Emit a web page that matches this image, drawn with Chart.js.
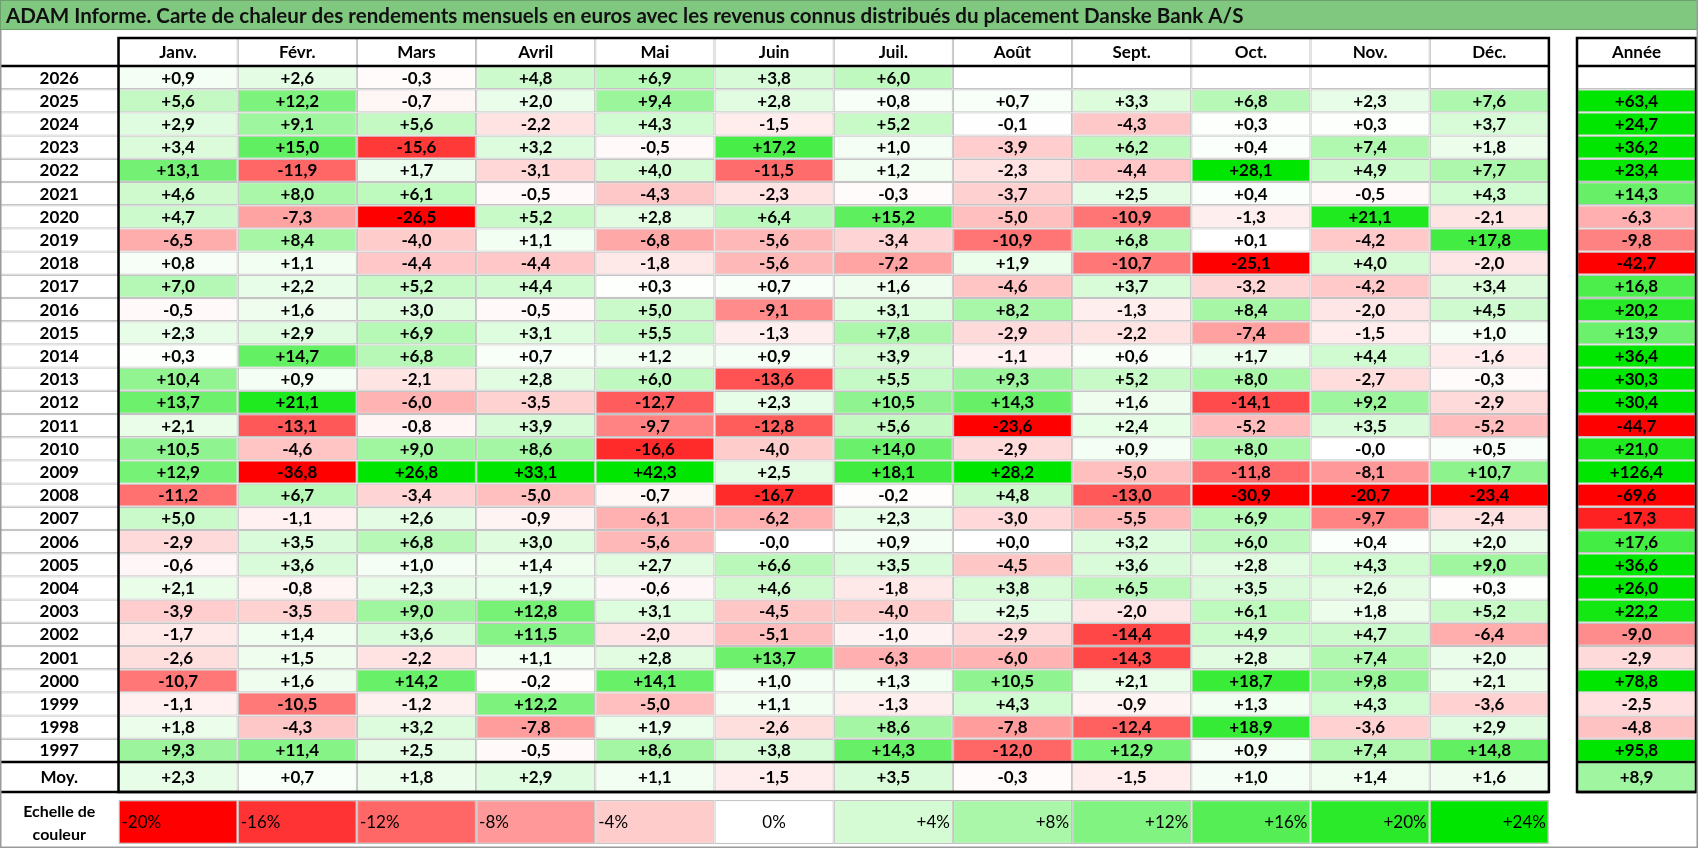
<!DOCTYPE html>
<html><head><meta charset="utf-8">
<script src="https://cdn.jsdelivr.net/npm/chart.js@4.4.1/dist/chart.umd.min.js"></script>
<style>html,body{margin:0;padding:0;background:#fff;overflow:hidden}canvas{display:block}</style>
</head><body>
<canvas id="c" width="1698" height="848"></canvas>
<script>
// ---------- DATA ----------
const TITLE = 'ADAM Informe. Carte de chaleur des rendements mensuels en euros avec les revenus connus distribués du placement Danske Bank A/S';
const months = ['Janv.','Févr.','Mars','Avril','Mai','Juin','Juil.','Août','Sept.','Oct.','Nov.','Déc.'];
const annualLabel = 'Année';
const avgLabel = 'Moy.';
const scaleTitle = ['Echelle de','couleur'];
const years = [2026,2025,2024,2023,2022,2021,2020,2019,2018,2017,2016,2015,2014,2013,2012,2011,2010,2009,2008,2007,2006,2005,2004,2003,2002,2001,2000,1999,1998,1997];
const v2026 = [0.9, 2.6, -0.3, 4.8, 6.9, 3.8, 6.0, null, null, null, null, null];
const v2025 = [5.6, 12.2, -0.7, 2.0, 9.4, 2.8, 0.8, 0.7, 3.3, 6.8, 2.3, 7.6];
const v2024 = [2.9, 9.1, 5.6, -2.2, 4.3, -1.5, 5.2, -0.1, -4.3, 0.3, 0.3, 3.7];
const v2023 = [3.4, 15.0, -15.6, 3.2, -0.5, 17.2, 1.0, -3.9, 6.2, 0.4, 7.4, 1.8];
const v2022 = [13.1, -11.9, 1.7, -3.1, 4.0, -11.5, 1.2, -2.3, -4.4, 28.1, 4.9, 7.7];
const v2021 = [4.6, 8.0, 6.1, -0.5, -4.3, -2.3, -0.3, -3.7, 2.5, 0.4, -0.5, 4.3];
const v2020 = [4.7, -7.3, -26.5, 5.2, 2.8, 6.4, 15.2, -5.0, -10.9, -1.3, 21.1, -2.1];
const v2019 = [-6.5, 8.4, -4.0, 1.1, -6.8, -5.6, -3.4, -10.9, 6.8, 0.1, -4.2, 17.8];
const v2018 = [0.8, 1.1, -4.4, -4.4, -1.8, -5.6, -7.2, 1.9, -10.7, -25.1, 4.0, -2.0];
const v2017 = [7.0, 2.2, 5.2, 4.4, 0.3, 0.7, 1.6, -4.6, 3.7, -3.2, -4.2, 3.4];
const v2016 = [-0.5, 1.6, 3.0, -0.5, 5.0, -9.1, 3.1, 8.2, -1.3, 8.4, -2.0, 4.5];
const v2015 = [2.3, 2.9, 6.9, 3.1, 5.5, -1.3, 7.8, -2.9, -2.2, -7.4, -1.5, 1.0];
const v2014 = [0.3, 14.7, 6.8, 0.7, 1.2, 0.9, 3.9, -1.1, 0.6, 1.7, 4.4, -1.6];
const v2013 = [10.4, 0.9, -2.1, 2.8, 6.0, -13.6, 5.5, 9.3, 5.2, 8.0, -2.7, -0.3];
const v2012 = [13.7, 21.1, -6.0, -3.5, -12.7, 2.3, 10.5, 14.3, 1.6, -14.1, 9.2, -2.9];
const v2011 = [2.1, -13.1, -0.8, 3.9, -9.7, -12.8, 5.6, -23.6, 2.4, -5.2, 3.5, -5.2];
const v2010 = [10.5, -4.6, 9.0, 8.6, -16.6, -4.0, 14.0, -2.9, 0.9, 8.0, -0.0, 0.5];
const v2009 = [12.9, -36.8, 26.8, 33.1, 42.3, 2.5, 18.1, 28.2, -5.0, -11.8, -8.1, 10.7];
const v2008 = [-11.2, 6.7, -3.4, -5.0, -0.7, -16.7, -0.2, 4.8, -13.0, -30.9, -20.7, -23.4];
const v2007 = [5.0, -1.1, 2.6, -0.9, -6.1, -6.2, 2.3, -3.0, -5.5, 6.9, -9.7, -2.4];
const v2006 = [-2.9, 3.5, 6.8, 3.0, -5.6, -0.0, 0.9, 0.0, 3.2, 6.0, 0.4, 2.0];
const v2005 = [-0.6, 3.6, 1.0, 1.4, 2.7, 6.6, 3.5, -4.5, 3.6, 2.8, 4.3, 9.0];
const v2004 = [2.1, -0.8, 2.3, 1.9, -0.6, 4.6, -1.8, 3.8, 6.5, 3.5, 2.6, 0.3];
const v2003 = [-3.9, -3.5, 9.0, 12.8, 3.1, -4.5, -4.0, 2.5, -2.0, 6.1, 1.8, 5.2];
const v2002 = [-1.7, 1.4, 3.6, 11.5, -2.0, -5.1, -1.0, -2.9, -14.4, 4.9, 4.7, -6.4];
const v2001 = [-2.6, 1.5, -2.2, 1.1, 2.8, 13.7, -6.3, -6.0, -14.3, 2.8, 7.4, 2.0];
const v2000 = [-10.7, 1.6, 14.2, -0.2, 14.1, 1.0, 1.3, 10.5, 2.1, 18.7, 9.8, 2.1];
const v1999 = [-1.1, -10.5, -1.2, 12.2, -5.0, 1.1, -1.3, 4.3, -0.9, 1.3, 4.3, -3.6];
const v1998 = [1.8, -4.3, 3.2, -7.8, 1.9, -2.6, 8.6, -7.8, -12.4, 18.9, -3.6, 2.9];
const v1997 = [9.3, 11.4, 2.5, -0.5, 8.6, 3.8, 14.3, -12.0, 12.9, 0.9, 7.4, 14.8];
const annual = [null, 63.4, 24.7, 36.2, 23.4, 14.3, -6.3, -9.8, -42.7, 16.8, 20.2, 13.9, 36.4, 30.3, 30.4, -44.7, 21.0, 126.4, -69.6, -17.3, 17.6, 36.6, 26.0, 22.2, -9.0, -2.9, 78.8, -2.5, -4.8, 95.8];
const avgMonthly = [2.3, 0.7, 1.8, 2.9, 1.1, -1.5, 3.5, -0.3, -1.5, 1.0, 1.4, 1.6];
const avgAnnual = 8.9;
const scaleSteps = [-20, -16, -12, -8, -4, 0, 4, 8, 12, 16, 20, 24];

const monthlyRows = [v2026,v2025,v2024,v2023,v2022,v2021,v2020,v2019,v2018,v2017,v2016,v2015,v2014,v2013,v2012,v2011,v2010,v2009,v2008,v2007,v2006,v2005,v2004,v2003,v2002,v2001,v2000,v1999,v1998,v1997];

// ---------- LAYOUT (pixels) ----------
const L = { W:1698, H:848, titleH:30, tableLeft:118.5, colW:119.2, annualLeft:1577, annualRight:1696,
  headTop:38, headBot:66, rowH:23.2, moyBot:792, legTop:800, legBot:844 };
const xv = px => (px - L.tableLeft) / L.colW;
const yv = py => (py - L.headBot) / L.rowH;
const X_MIN = xv(0), X_MAX = xv(L.W), Y_MIN = yv(0), Y_MAX = yv(L.H);
const A0 = xv(L.annualLeft), A1 = xv(L.annualRight);
const moyTop = L.headBot + years.length * L.rowH;

const FONT = 'Lato, "Open Sans", "Liberation Sans", sans-serif';
const GRID = '#c4c4c4';

function fmt(v) {
  const neg = v < 0 || Object.is(v, -0);
  return (neg ? '-' : '+') + Math.abs(v).toFixed(1).replace('.', ',');
}
function heat(v) {
  if (v === null || v === undefined) return '#ffffff';
  if (v < 0) {
    const t = Math.min(1, -v / 20);
    const c = Math.round(255 * (1 - t));
    return `rgb(255,${c},${c})`;
  }
  const t = Math.min(1, v / 24);
  const c = Math.round(255 * (1 - t));
  return `rgb(${c},${Math.round(255 - 25 * t)},${c})`;
}

// ---------- TABLES FOR THE LIBRARY ----------
const headerData = months.map((m, i) => ({ x: [i, i + 1], y: yv((L.headTop + L.headBot) / 2), kind: 'head', text: m }));
headerData.push({ x: [A0, A1], y: yv((L.headTop + L.headBot) / 2), kind: 'head', text: annualLabel });

const rowData = [];
years.forEach((yr, r) => {
  rowData.push({ x: [X_MIN, 0], y: r + 0.5, kind: 'label', text: String(yr) });
  monthlyRows[r].forEach((v, m) => rowData.push({ x: [m, m + 1], y: r + 0.5, kind: 'cell', v }));
  rowData.push({ x: [A0, A1], y: r + 0.5, kind: 'cell', v: annual[r] });
});

const moyY = yv((moyTop + L.moyBot) / 2);
const moyData = [{ x: [X_MIN, 0], y: moyY, kind: 'blank', text: avgLabel }];
avgMonthly.forEach((v, m) => moyData.push({ x: [m, m + 1], y: moyY, kind: 'cell', v }));
moyData.push({ x: [A0, A1], y: moyY, kind: 'cell', v: avgAnnual });

const legY = yv((L.legTop + L.legBot) / 2);
const legData = [{ x: [X_MIN, 0], y: legY, kind: 'scaleTitle', lines: scaleTitle }];
scaleSteps.forEach((s, i) => legData.push({ x: [i, i + 1], y: legY, kind: 'legend', v: s,
  text: (s > 0 ? '+' : '') + s + '%' }));

const bg = ctx => {
  const d = ctx.raw; if (!d) return '#fff';
  return (d.kind === 'cell' || d.kind === 'legend') ? heat(d.v) : '#ffffff';
};
const bw = ctx => {
  const d = ctx.raw; if (!d) return 0;
  if (d.kind === 'label') return { top: 1.2, bottom: 1.2, left: 0, right: 0 };
  if (d.kind === 'blank' || d.kind === 'scaleTitle') return 0;
  return 1.2;
};
const common = { backgroundColor: bg, borderColor: GRID, borderWidth: bw, borderSkipped: false,
  grouped: false, inflateAmount: 0 };

// ---------- PLUGINS ----------
const tablePlugin = {
  id: 'tablePlugin',
  beforeDatasetsDraw(chart) {
    const ctx = chart.ctx;
    ctx.save();
    ctx.fillStyle = '#ffffff';
    ctx.fillRect(0, 0, L.W, L.H);
    ctx.fillStyle = 'rgb(128,200,128)';
    ctx.fillRect(0, 0, L.W, L.titleH);
    ctx.strokeStyle = 'rgb(110,160,110)';
    ctx.lineWidth = 1;
    ctx.strokeRect(0.5, 0.5, L.W - 1, L.titleH - 1);
    ctx.font = `bold 20px ${FONT}`;
    const w = ctx.measureText(TITLE).width;
    const size = 20 * 1238 / w;
    ctx.font = `bold ${size.toFixed(2)}px ${FONT}`;
    ctx.fillStyle = '#111';
    ctx.textBaseline = 'middle';
    ctx.textAlign = 'left';
    ctx.fillText(TITLE, 6, L.titleH / 2 + 1);
    ctx.restore();
  },
  afterDatasetsDraw(chart) {
    const ctx = chart.ctx;
    const xs = chart.scales.x, ys = chart.scales.y;
    ctx.save();
    ctx.textBaseline = 'middle';
    chart.data.datasets.forEach((ds, di) => {
      const meta = chart.getDatasetMeta(di);
      meta.data.forEach((el, i) => {
        const d = ds.data[i];
        const p = el.getProps(['x', 'y', 'base'], true);
        const left = Math.min(p.x, p.base), right = Math.max(p.x, p.base);
        const cx = (left + right) / 2, cy = p.y + 0.5;
        ctx.fillStyle = '#000';
        if (d.kind === 'cell') {
          if (d.v === null || d.v === undefined) return;
          ctx.font = `bold 17px ${FONT}`; ctx.textAlign = 'center';
          ctx.fillText(fmt(d.v), cx, cy);
        } else if (d.kind === 'head' || d.kind === 'label' || d.kind === 'blank') {
          ctx.font = `bold 17px ${FONT}`; ctx.textAlign = 'center';
          ctx.fillText(d.text, cx, cy);
        } else if (d.kind === 'legend') {
          ctx.font = `17px ${FONT}`;
          if (d.v < 0) { ctx.textAlign = 'left'; ctx.fillText(d.text, left + 3, cy); }
          else if (d.v > 0) { ctx.textAlign = 'right'; ctx.fillText(d.text, right - 3, cy); }
          else { ctx.textAlign = 'center'; ctx.fillText(d.text, cx, cy); }
        } else if (d.kind === 'scaleTitle') {
          ctx.font = `bold 16px ${FONT}`; ctx.textAlign = 'center';
          ctx.fillText(d.lines[0], cx, cy - 11);
          ctx.fillText(d.lines[1], cx, cy + 12);
        }
      });
    });
    // thick black frame lines
    const px = v => xs.getPixelForValue(v), py = v => ys.getPixelForValue(v);
    const tL = px(0), tR = px(months.length), aL = px(A0), aR = px(A1);
    const hT = py(yv(L.headTop)), hB = py(0), mT = py(years.length), mB = py(yv(L.moyBot));
    ctx.strokeStyle = '#000';
    ctx.lineWidth = 2.5;
    ctx.strokeRect(tL, hT, tR - tL, mB - hT);
    ctx.strokeRect(aL, hT, aR - aL, mB - hT);
    ctx.beginPath();
    [hB, mT, mB].forEach(yy => { ctx.moveTo(0, yy); ctx.lineTo(tR, yy); ctx.moveTo(aL, yy); ctx.lineTo(aR, yy); });
    ctx.stroke();
    // outer frame
    ctx.strokeStyle = '#9a9a9a';
    ctx.lineWidth = 1.5;
    ctx.beginPath();
    ctx.moveTo(L.W - 0.75, 0); ctx.lineTo(L.W - 0.75, L.H - 0.75); ctx.lineTo(0, L.H - 0.75);
    ctx.moveTo(0.75, L.titleH); ctx.lineTo(0.75, L.H);
    ctx.stroke();
    ctx.restore();
  }
};

function build() {
  new Chart(document.getElementById('c'), {
    type: 'bar',
    data: {
      datasets: [
        Object.assign({ label: 'header', data: headerData, barThickness: L.headBot - L.headTop }, common),
        Object.assign({ label: 'rows', data: rowData, barThickness: L.rowH }, common),
        Object.assign({ label: 'moy', data: moyData, barThickness: L.moyBot - moyTop }, common),
        Object.assign({ label: 'scale', data: legData, barThickness: L.legBot - L.legTop }, common)
      ]
    },
    options: {
      indexAxis: 'y',
      responsive: false,
      devicePixelRatio: 1,
      animation: false,
      layout: { padding: 0 },
      plugins: { legend: { display: false }, tooltip: { enabled: false }, title: { display: false } },
      scales: {
        x: { type: 'linear', min: X_MIN, max: X_MAX, display: false, offset: false },
        y: { type: 'linear', min: Y_MIN, max: Y_MAX, reverse: true, display: false, offset: false }
      }
    },
    plugins: [tablePlugin]
  });
}
Promise.all([
  document.fonts.load('bold 17px Lato'),
  document.fonts.load('17px Lato')
]).then(build, build);
</script>
</body></html>
